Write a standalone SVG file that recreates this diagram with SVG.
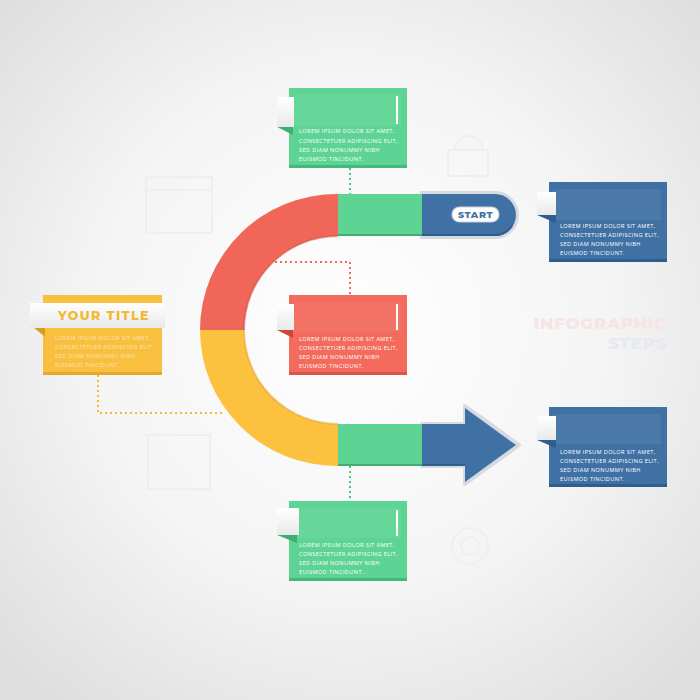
<svg xmlns="http://www.w3.org/2000/svg" width="700" height="700" viewBox="0 0 700 700">
<defs>
<radialGradient id="bg" cx="350" cy="330" r="480" gradientUnits="userSpaceOnUse">
<stop offset="0" stop-color="#ffffff"/><stop offset="0.55" stop-color="#f4f4f4"/><stop offset="1" stop-color="#dedede"/>
</radialGradient>
<linearGradient id="tabg" x1="0" y1="0" x2="0" y2="1"><stop offset="0" stop-color="#ffffff"/><stop offset="1" stop-color="#e9e9e9"/></linearGradient>
<style>
.body{font-family:"Open Sans","DejaVu Sans",sans-serif;font-size:5.6px;fill:#ffffff;letter-spacing:0.4px}
.dim{fill-opacity:0.6}
.hdr{fill:#ffffff;fill-opacity:0.06}
.vl{fill:#ffffff}
.tab{fill:url(#tabg)}
.dot{fill:none;stroke-width:2;stroke-dasharray:2 3}
.faint{fill:none;stroke:#efefef;stroke-width:2}
</style>
</defs>
<rect width="700" height="700" fill="url(#bg)"/>

<!-- faint background icons / text -->
<g id="faint-decor">
<rect x="146" y="177" width="66" height="56" class="faint"/>
<line x1="146" y1="190" x2="212" y2="190" class="faint"/>
<rect x="148" y="435" width="62" height="54" class="faint"/>
<path d="M455,150 a14,14 0 0 1 28,0" class="faint"/>
<rect x="448" y="150" width="40" height="26" class="faint"/>
<circle cx="470" cy="546" r="18" class="faint"/>
<circle cx="470" cy="546" r="9" class="faint"/>
<text x="667" y="329" text-anchor="end" font-family="Montserrat,'Open Sans','DejaVu Sans',sans-serif" font-weight="800" font-size="17" fill="#f7e4e4" letter-spacing="0.5">INFOGRAPHIC</text>
<text x="667" y="349" text-anchor="end" font-family="Montserrat,'Open Sans','DejaVu Sans',sans-serif" font-weight="800" font-size="17" fill="#e6eaef" letter-spacing="0.5">STEPS</text>
</g>

<!-- connectors -->
<g id="connectors">
<path d="M350,168 V194" class="dot" stroke="#4fbf8a"/>
<path d="M270,262 H350 V295" class="dot" stroke="#ef6a5a"/>
<path d="M98,375 V413 H222" class="dot" stroke="#f5b935"/>
<path d="M350,466 V501" class="dot" stroke="#4fbf8a"/>
</g>

<!-- U shaped track -->
<g id="track">
<path d="M422,193 H495 A22,22 0 0 1 495,237 H422 Z" fill="none" stroke="#d6dbe2" stroke-width="4"/>
<path d="M422,424 H465 V406 L519,445 L465,484 V466 H422 Z" fill="none" stroke="#d6dbe2" stroke-width="4" stroke-linejoin="round"/>
<path d="M338,194 A137,136 0 0 0 200,330 L244,330 A94,94 0 0 1 338,236 Z" fill="#f0675a"/>
<path d="M200,330 A137,136 0 0 0 338,466 L338,424 A94,94 0 0 1 244,330 Z" fill="#fbc13f"/>
<rect x="338" y="194" width="85" height="42" fill="#5dd493"/>
<rect x="338" y="424" width="85" height="42" fill="#5dd493"/>
<path d="M422,194 H495 A21,21 0 0 1 495,236 H422 Z" fill="#3f71a5"/>
<path d="M422,424 H465 V408 L516,445 L465,482 V466 H422 Z" fill="#3f71a5"/>
<path d="M338,236 A94,94 0 0 0 244,330" fill="none" stroke="#c9483d" stroke-width="2" stroke-opacity="0.5"/>
<path d="M244,330 A94,94 0 0 0 338,424" fill="none" stroke="#e0a22a" stroke-width="2" stroke-opacity="0.5"/>
<line x1="338" y1="235" x2="423" y2="235" stroke="#3fae72" stroke-width="2"/>
<line x1="338" y1="465" x2="423" y2="465" stroke="#3fae72" stroke-width="2"/>
<path d="M422,235 H495 A21,21 0 0 0 512,226" fill="none" stroke="#2f5d8c" stroke-width="2"/>
<line x1="422" y1="465" x2="465" y2="465" stroke="#2f5d8c" stroke-width="2"/>
<g id="start">
<rect x="452" y="207" width="47" height="15" rx="7.5" fill="#ffffff" stroke="#c9d2dc" stroke-width="1.2"/>
<text x="475.5" y="218" text-anchor="middle" font-family="Montserrat,'Open Sans','DejaVu Sans',sans-serif" font-weight="800" font-size="9.5" fill="#3f71a5" letter-spacing="0.6">START</text>
</g>
</g>

<!-- top green box -->
<g id="box-top-green">
<rect x="289" y="88" width="118" height="80" fill="#5dd493"/>
<rect x="289" y="165" width="118" height="3" fill="#44b97a"/>
<rect x="293" y="95" width="108" height="31" class="hdr"/>
<rect x="396" y="96" width="2" height="28" class="vl"/>
<path d="M277,127 H293 V135 Z" fill="#3fae72"/>
<rect x="277" y="97" width="17" height="30" class="tab"/>
<text class="body"><tspan x="299" y="133">LOREM IPSUM DOLOR SIT AMET,</tspan><tspan x="299" y="143">CONSECTETUER ADIPISCING ELIT,</tspan><tspan x="299" y="152">SED DIAM NONUMMY NIBH</tspan><tspan x="299" y="161">EUISMOD TINCIDUNT.</tspan></text>
</g>

<!-- top right blue box -->
<g id="box-top-blue">
<rect x="549" y="182" width="118" height="80" fill="#3f71a5"/>
<rect x="549" y="259" width="118" height="3" fill="#2f5d8c"/>
<rect x="553" y="189" width="108" height="31" class="hdr"/>
<path d="M537,215 H556 V223 Z" fill="#2f5d8c"/>
<rect x="537" y="192" width="19" height="23" class="tab"/>
<text class="body"><tspan x="560" y="228">LOREM IPSUM DOLOR SIT AMET,</tspan><tspan x="560" y="237">CONSECTETUER ADIPISCING ELIT,</tspan><tspan x="560" y="246">SED DIAM NONUMMY NIBH</tspan><tspan x="560" y="255">EUISMOD TINCIDUNT.</tspan></text>
</g>

<!-- middle red box -->
<g id="box-red">
<rect x="289" y="295" width="118" height="80" fill="#f26b5c"/>
<rect x="289" y="372" width="118" height="3" fill="#d9554a"/>
<rect x="293" y="302" width="108" height="30" class="hdr"/>
<rect x="396" y="304" width="2" height="26" class="vl"/>
<path d="M277,330 H293 V338 Z" fill="#c9483d"/>
<rect x="277" y="304" width="17" height="26" class="tab"/>
<text class="body"><tspan x="299" y="341">LOREM IPSUM DOLOR SIT AMET,</tspan><tspan x="299" y="350">CONSECTETUER ADIPISCING ELIT,</tspan><tspan x="299" y="359">SED DIAM NONUMMY NIBH</tspan><tspan x="299" y="368">EUISMOD TINCIDUNT.</tspan></text>
</g>

<!-- left yellow box -->
<g id="box-yellow">
<rect x="43" y="295" width="119" height="80" fill="#f8c03e"/>
<rect x="43" y="372" width="119" height="3" fill="#e4a928"/>
<path d="M33,327 H45 V337 Z" fill="#d79d22"/>
<rect x="30" y="303" width="135" height="25" class="tab"/>
<text x="58" y="320" font-family="Montserrat,'Open Sans','DejaVu Sans',sans-serif" font-weight="800" font-size="12.5" fill="#f2b935" letter-spacing="1.4">YOUR TITLE</text>
<text class="body dim"><tspan x="55" y="340">LOREM IPSUM DOLOR SIT AMET,</tspan><tspan x="55" y="349">CONSECTETUER ADIPISCING ELIT,</tspan><tspan x="55" y="358">SED DIAM NONUMMY NIBH</tspan><tspan x="55" y="367">EUISMOD TINCIDUNT.</tspan></text>
</g>

<!-- bottom right blue box -->
<g id="box-bottom-blue">
<rect x="549" y="407" width="118" height="80" fill="#3f71a5"/>
<rect x="549" y="484" width="118" height="3" fill="#2f5d8c"/>
<rect x="553" y="414" width="108" height="30" class="hdr"/>
<path d="M537,440 H556 V448 Z" fill="#2f5d8c"/>
<rect x="537" y="416" width="19" height="24" class="tab"/>
<text class="body"><tspan x="560" y="454">LOREM IPSUM DOLOR SIT AMET,</tspan><tspan x="560" y="463">CONSECTETUER ADIPISCING ELIT,</tspan><tspan x="560" y="472">SED DIAM NONUMMY NIBH</tspan><tspan x="560" y="481">EUISMOD TINCIDUNT.</tspan></text>
</g>

<!-- bottom green box -->
<g id="box-bottom-green">
<rect x="289" y="501" width="118" height="80" fill="#5dd493"/>
<rect x="289" y="578" width="118" height="3" fill="#44b97a"/>
<rect x="293" y="508" width="108" height="30" class="hdr"/>
<rect x="396" y="510" width="2" height="26" class="vl"/>
<path d="M277,535 H297 V543 Z" fill="#3fae72"/>
<rect x="277" y="508" width="22" height="27" class="tab"/>
<text class="body"><tspan x="299" y="547">LOREM IPSUM DOLOR SIT AMET,</tspan><tspan x="299" y="556">CONSECTETUER ADIPISCING ELIT,</tspan><tspan x="299" y="565">SED DIAM NONUMMY NIBH</tspan><tspan x="299" y="574">EUISMOD TINCIDUNT.</tspan></text>
</g>
</svg>
